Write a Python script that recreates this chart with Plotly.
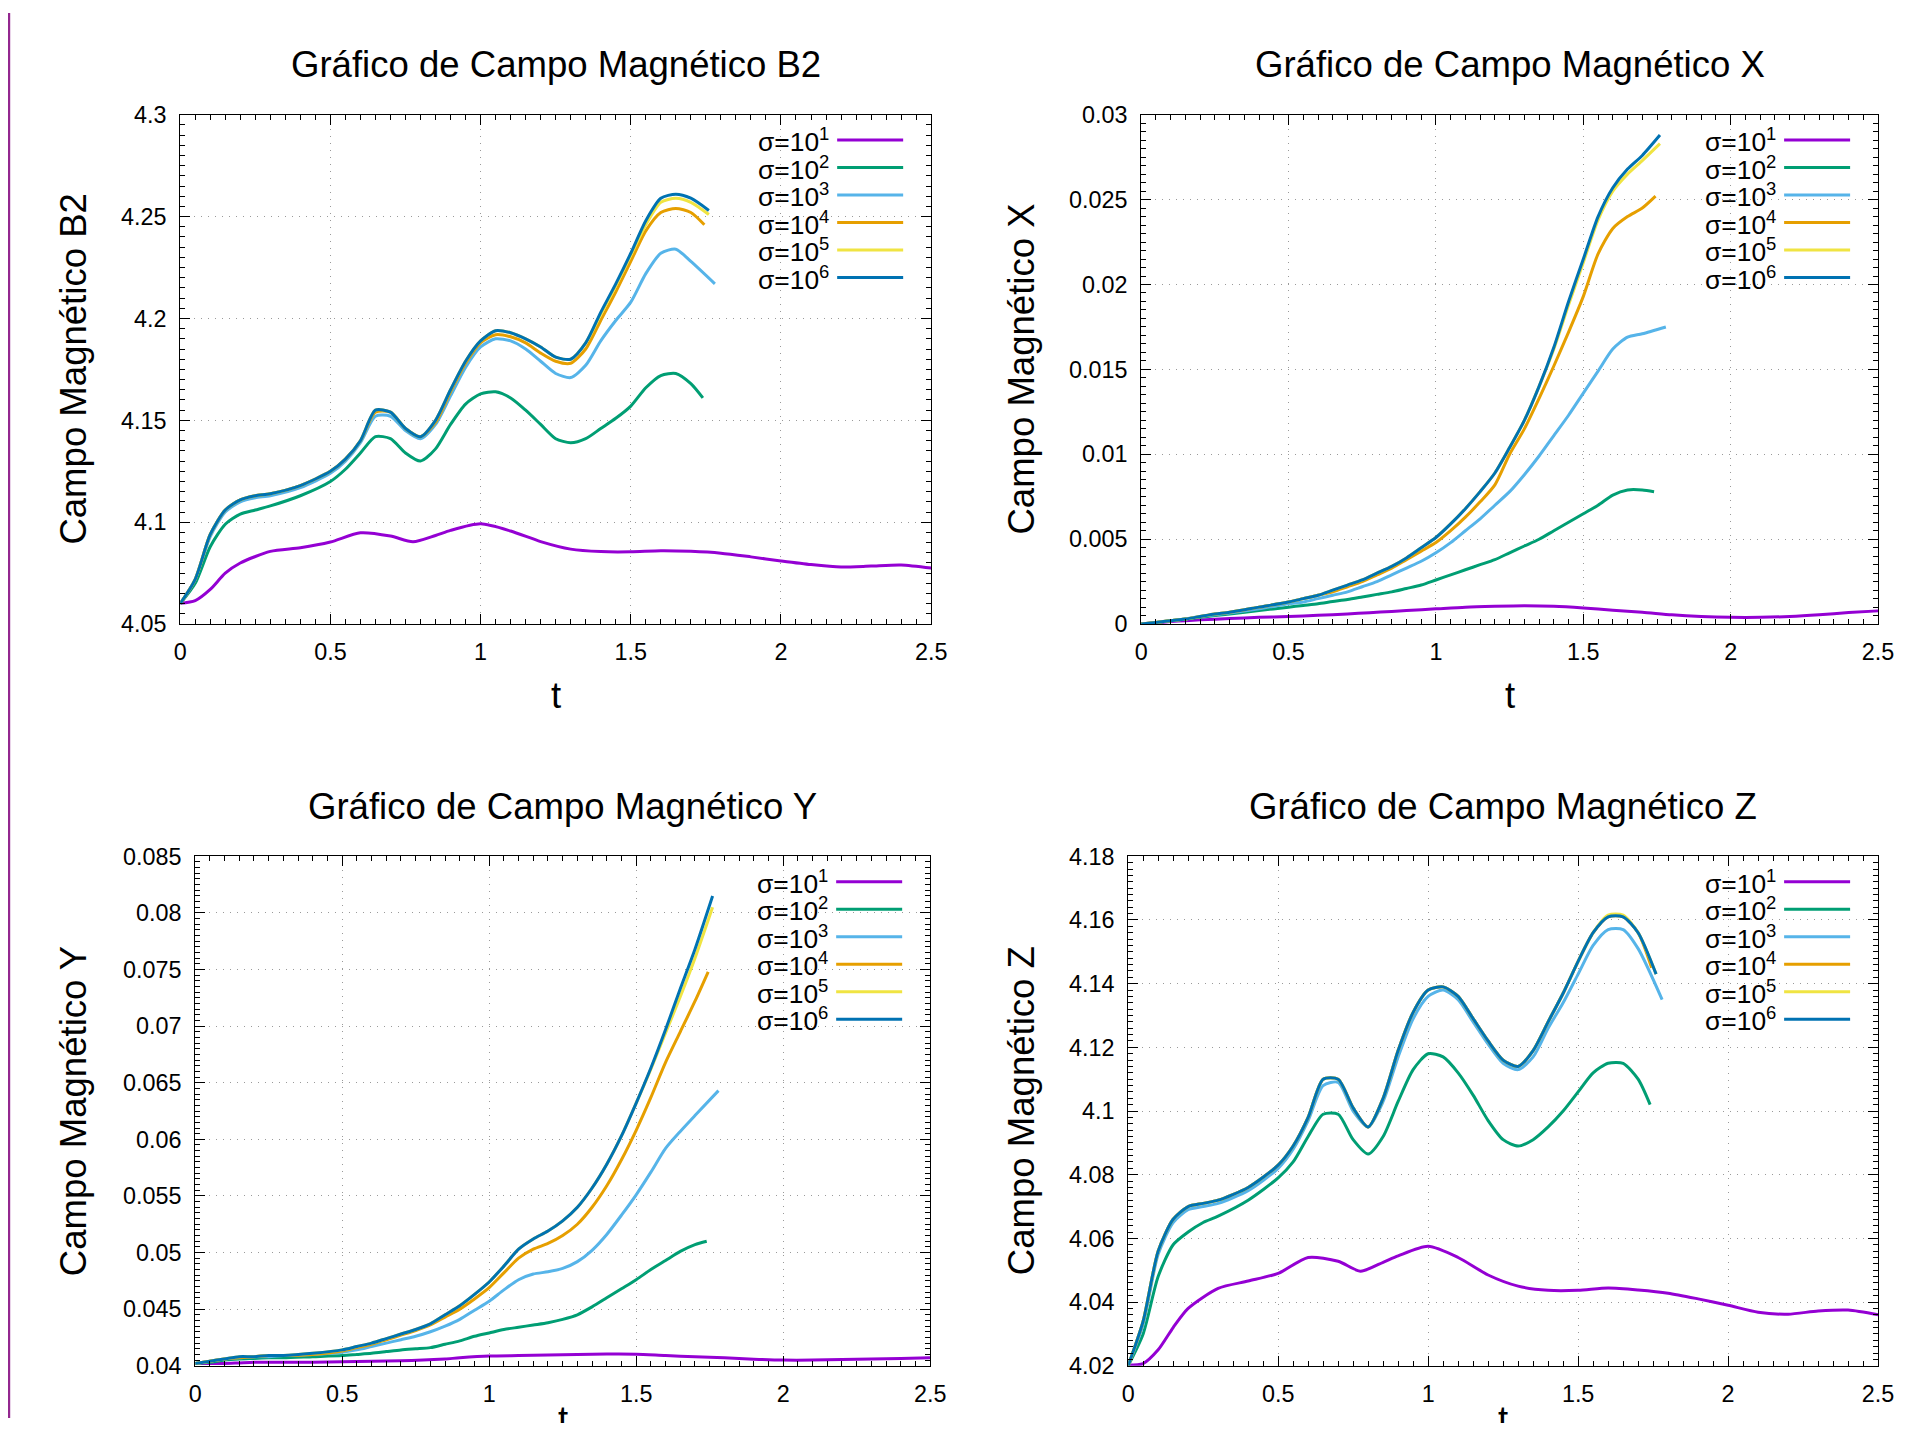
import plotly.graph_objects as go

# ---------------- data ----------------
T = [0, 0.05, 0.1, 0.15, 0.2, 0.25, 0.3, 0.4, 0.5, 0.55, 0.6, 0.65, 0.7, 0.75, 0.8, 0.85,
     0.9, 0.95, 1.0, 1.05, 1.1, 1.15, 1.2, 1.25, 1.3, 1.35, 1.4, 1.45, 1.5, 1.55, 1.6, 1.65, 1.7]
T_LONG = [0, 0.05, 0.1, 0.15, 0.2, 0.3, 0.4, 0.5, 0.6, 0.7, 0.775, 0.85, 0.9, 1.0, 1.1, 1.2,
          1.3, 1.4, 1.5, 1.6, 1.7, 1.8, 1.9, 2.0, 2.1, 2.2, 2.3, 2.4, 2.5]
T_END = [None, 1.74, 1.78, 1.745, 1.76, 1.76]   # last time of sigma=10^2..10^6

SIGMA_LABELS = ["σ=10<sup>1</sup>", "σ=10<sup>2</sup>", "σ=10<sup>3</sup>",
                "σ=10<sup>4</sup>", "σ=10<sup>5</sup>", "σ=10<sup>6</sup>"]
COLORS = ["#9400d3", "#009e73", "#56b4e9", "#e69f00", "#f0e442", "#0072b2"]

TITLES = ["Gráfico de Campo Magnético B2", "Gráfico de Campo Magnético X",
          "Gráfico de Campo Magnético Y", "Gráfico de Campo Magnético Z"]
YTITLES = ["Campo Magnético B2", "Campo Magnético X", "Campo Magnético Y", "Campo Magnético Z"]
XTITLE = "t"

X_TICKS = [0, 0.5, 1, 1.5, 2, 2.5]
X_TICKLABELS = ["0", "0.5", "1", "1.5", "2", "2.5"]
B2_TICKS = [4.05, 4.1, 4.15, 4.2, 4.25, 4.3]
B2_TICKLABELS = ["4.05", "4.1", "4.15", "4.2", "4.25", "4.3"]
BX_TICKS = [0, 0.005, 0.01, 0.015, 0.02, 0.025, 0.03]
BX_TICKLABELS = ["0", "0.005", "0.01", "0.015", "0.02", "0.025", "0.03"]
BY_TICKS = [0.04, 0.045, 0.05, 0.055, 0.06, 0.065, 0.07, 0.075, 0.08, 0.085]
BY_TICKLABELS = ["0.04", "0.045", "0.05", "0.055", "0.06", "0.065", "0.07", "0.075", "0.08", "0.085"]
BZ_TICKS = [4.02, 4.04, 4.06, 4.08, 4.1, 4.12, 4.14, 4.16, 4.18]
BZ_TICKLABELS = ["4.02", "4.04", "4.06", "4.08", "4.1", "4.12", "4.14", "4.16", "4.18"]

# --- B2 ---
B2_S1 = [4.0602, 4.0615, 4.067, 4.075, 4.080, 4.0857, 4.0875, 4.0903, 4.0948, 4.0932, 4.0904,
         4.0935, 4.096, 4.0992, 4.0957, 4.0905, 4.0868, 4.0856, 4.0855, 4.086, 4.0857, 4.0848,
         4.083, 4.081, 4.0792, 4.078, 4.0785, 4.079, 4.0775]
B2_S2 = [4.060, 4.070, 4.088, 4.099, 4.104, 4.106, 4.108, 4.113, 4.120, 4.126, 4.134, 4.142,
         4.141, 4.134, 4.130, 4.136, 4.148, 4.158, 4.163, 4.164, 4.161, 4.155, 4.148, 4.141,
         4.139, 4.141, 4.146, 4.151, 4.157, 4.166, 4.172, 4.173, 4.168, 4.161]
B2_S3 = [4.060, 4.072, 4.093, 4.105, 4.110, 4.112, 4.113, 4.117, 4.124, 4.130, 4.139, 4.152,
         4.152, 4.145, 4.141, 4.148, 4.162, 4.176, 4.186, 4.190, 4.189, 4.185, 4.179, 4.173,
         4.171, 4.177, 4.189, 4.199, 4.208, 4.222, 4.232, 4.234, 4.228, 4.217]
B2_S4 = [4.060, 4.072, 4.094, 4.106, 4.111, 4.113, 4.114, 4.118, 4.125, 4.131, 4.140, 4.154,
         4.154, 4.146, 4.142, 4.149, 4.164, 4.178, 4.188, 4.192, 4.191, 4.188, 4.183, 4.179,
         4.178, 4.185, 4.199, 4.213, 4.228, 4.243, 4.252, 4.254, 4.252, 4.246]
B2_S5 = [4.060, 4.072, 4.094, 4.106, 4.111, 4.113, 4.114, 4.118, 4.125, 4.131, 4.140, 4.155,
         4.154, 4.146, 4.142, 4.150, 4.165, 4.179, 4.189, 4.194, 4.193, 4.190, 4.186, 4.181,
         4.180, 4.188, 4.202, 4.216, 4.231, 4.246, 4.257, 4.259, 4.257, 4.251]
B2_S6 = [4.060, 4.072, 4.094, 4.106, 4.111, 4.113, 4.114, 4.118, 4.125, 4.131, 4.140, 4.155,
         4.154, 4.146, 4.142, 4.150, 4.165, 4.179, 4.189, 4.194, 4.193, 4.190, 4.186, 4.181,
         4.180, 4.188, 4.203, 4.217, 4.232, 4.248, 4.259, 4.261, 4.259, 4.253]

# --- X ---
BX_S1 = [0, 0.00008, 0.00015, 0.0002, 0.00025, 0.00033, 0.0004, 0.00045, 0.00052, 0.0006,
         0.00067, 0.00075, 0.0008, 0.0009, 0.001, 0.00105, 0.00108, 0.00105, 0.00095, 0.00082,
         0.0007, 0.00055, 0.00045, 0.0004, 0.0004, 0.00045, 0.00055, 0.00068, 0.00078]
BX_S2 = [0, 0.00008, 0.0002, 0.0003, 0.0004, 0.0005, 0.0006, 0.0008, 0.001, 0.0011, 0.0012,
         0.00133, 0.00145, 0.0016, 0.00175, 0.0019, 0.0021, 0.0023, 0.0026, 0.0029, 0.0032,
         0.0035, 0.0038, 0.0042, 0.0046, 0.005, 0.0055, 0.006, 0.0065, 0.007, 0.0076, 0.0079,
         0.0079, 0.0078]
BX_S3 = [0, 0.0001, 0.0002, 0.0003, 0.00045, 0.00055, 0.00065, 0.0009, 0.0012, 0.0013, 0.0015,
         0.0017, 0.0019, 0.0022, 0.0025, 0.0029, 0.0033, 0.0037, 0.0042, 0.0048, 0.0055, 0.0062,
         0.0070, 0.0078, 0.0088, 0.0099, 0.0111, 0.0123, 0.0136, 0.0149, 0.0162, 0.0169,
         0.0171, 0.0175]
BX_S4 = [0, 0.0001, 0.0002, 0.0003, 0.00045, 0.0006, 0.0007, 0.001, 0.0013, 0.0015, 0.0017,
         0.0019, 0.0022, 0.0025, 0.0029, 0.0033, 0.0038, 0.0043, 0.0048, 0.0055, 0.0063, 0.0072,
         0.0082, 0.0100, 0.0115, 0.0133, 0.0152, 0.0172, 0.0193, 0.0218, 0.0233, 0.0240,
         0.0245, 0.0252]
BX_S5 = [0, 0.0001, 0.0002, 0.0003, 0.00045, 0.0006, 0.0007, 0.001, 0.0013, 0.0015, 0.0017,
         0.002, 0.0023, 0.0026, 0.003, 0.0034, 0.0039, 0.0045, 0.0051, 0.0059, 0.0068, 0.0078,
         0.0089, 0.0104, 0.0120, 0.0140, 0.0162, 0.0188, 0.0213, 0.0238, 0.0255, 0.0265,
         0.0273, 0.0283]
BX_S6 = [0, 0.0001, 0.0002, 0.0003, 0.00045, 0.0006, 0.0007, 0.001, 0.0013, 0.0015, 0.0017,
         0.002, 0.0023, 0.0026, 0.003, 0.0034, 0.0039, 0.0045, 0.0051, 0.0059, 0.0068, 0.0078,
         0.0089, 0.0104, 0.0120, 0.0140, 0.0163, 0.0190, 0.0215, 0.0240, 0.0257, 0.0268,
         0.0276, 0.0288]

# --- Y ---
BY_S1 = [0.0402, 0.0402, 0.0402, 0.04025, 0.0403, 0.0403, 0.0403, 0.04035, 0.0404, 0.04045,
         0.0405, 0.0406, 0.0407, 0.04085, 0.0409, 0.04095, 0.041, 0.04103, 0.04102, 0.0409,
         0.0408, 0.0407, 0.04058, 0.0405, 0.0405, 0.04055, 0.0406, 0.04065, 0.0407]
BY_S2 = [0.0402, 0.0403, 0.0405, 0.0406, 0.04065, 0.0407, 0.0407, 0.0408, 0.0409, 0.041, 0.0411,
         0.04125, 0.0414, 0.0415, 0.0416, 0.0419, 0.0422, 0.0426, 0.0429, 0.0432, 0.0434,
         0.0436, 0.0438, 0.0441, 0.0445, 0.0452, 0.046, 0.0468, 0.0476, 0.0485, 0.0493, 0.0501,
         0.0507, 0.051]
BY_S3 = [0.0402, 0.0404, 0.0406, 0.0407, 0.0408, 0.0408, 0.0409, 0.041, 0.0412, 0.0414, 0.0417,
         0.042, 0.0423, 0.0426, 0.043, 0.0435, 0.0441, 0.0449, 0.0457, 0.0467, 0.0476, 0.0481,
         0.0483, 0.0486, 0.0492, 0.0502, 0.0516, 0.0533, 0.0551, 0.0571, 0.0592, 0.0607,
         0.0621, 0.0643]
BY_S4 = [0.0402, 0.0404, 0.0406, 0.0407, 0.0408, 0.0409, 0.0409, 0.041, 0.0413, 0.0416, 0.0419,
         0.0423, 0.0427, 0.0431, 0.0436, 0.0443, 0.045, 0.0459, 0.0469, 0.0482, 0.0495, 0.0503,
         0.0508, 0.0515, 0.0525, 0.054, 0.0559, 0.0582, 0.0608, 0.0637, 0.0668, 0.0695,
         0.0722, 0.0748]
BY_S5 = [0.0402, 0.0404, 0.0406, 0.0408, 0.0408, 0.0409, 0.0409, 0.0411, 0.0414, 0.0417, 0.042,
         0.0424, 0.0428, 0.0432, 0.0437, 0.0445, 0.0453, 0.0463, 0.0474, 0.0488, 0.0503, 0.0512,
         0.0519, 0.0528, 0.054, 0.0557, 0.0578, 0.0603, 0.0632, 0.0662, 0.0694, 0.0726,
         0.0760, 0.0805]
BY_S6 = [0.0402, 0.0404, 0.0406, 0.0408, 0.0408, 0.0409, 0.0409, 0.0411, 0.0414, 0.0417, 0.042,
         0.0424, 0.0428, 0.0432, 0.0437, 0.0445, 0.0453, 0.0463, 0.0474, 0.0488, 0.0503, 0.0512,
         0.0519, 0.0528, 0.054, 0.0557, 0.0578, 0.0603, 0.0632, 0.0663, 0.0697, 0.0733,
         0.0768, 0.0815]

# --- Z ---
BZ_S1 = [4.0202, 4.0207, 4.025, 4.032, 4.038, 4.0443, 4.0466, 4.049, 4.054, 4.0528, 4.0497,
         4.0525, 4.0545, 4.0575, 4.054, 4.0485, 4.045, 4.0437, 4.0437, 4.0444, 4.0438, 4.0428,
         4.041, 4.039, 4.0368, 4.0362, 4.0372, 4.0375, 4.036]
BZ_S2 = [4.020, 4.030, 4.048, 4.058, 4.062, 4.065, 4.067, 4.072, 4.079, 4.084, 4.092, 4.099,
         4.099, 4.091, 4.0865, 4.092, 4.103, 4.113, 4.118, 4.117, 4.112, 4.105, 4.097, 4.091,
         4.089, 4.091, 4.095, 4.100, 4.106, 4.112, 4.115, 4.115, 4.110, 4.102]
BZ_S3 = [4.020, 4.033, 4.055, 4.065, 4.069, 4.070, 4.071, 4.075, 4.082, 4.088, 4.097, 4.108,
         4.109, 4.100, 4.095, 4.103, 4.117, 4.129, 4.136, 4.138, 4.135, 4.128, 4.121, 4.115,
         4.113, 4.117, 4.126, 4.134, 4.143, 4.152, 4.157, 4.157, 4.151, 4.135]
BZ_S4 = [4.020, 4.034, 4.056, 4.066, 4.070, 4.071, 4.072, 4.076, 4.083, 4.089, 4.098, 4.110,
         4.110, 4.101, 4.095, 4.104, 4.119, 4.131, 4.138, 4.139, 4.136, 4.129, 4.122, 4.116,
         4.114, 4.119, 4.128, 4.137, 4.147, 4.156, 4.161, 4.161, 4.156, 4.145]
BZ_S5 = [4.020, 4.034, 4.056, 4.066, 4.070, 4.071, 4.072, 4.076, 4.083, 4.089, 4.098, 4.110,
         4.110, 4.101, 4.095, 4.104, 4.119, 4.131, 4.138, 4.139, 4.136, 4.129, 4.122, 4.116,
         4.114, 4.119, 4.128, 4.137, 4.147, 4.156, 4.1615, 4.1615, 4.156, 4.143]
BZ_S6 = [4.020, 4.034, 4.056, 4.066, 4.070, 4.071, 4.072, 4.076, 4.083, 4.089, 4.098, 4.110,
         4.110, 4.101, 4.095, 4.104, 4.119, 4.131, 4.138, 4.139, 4.136, 4.129, 4.122, 4.116,
         4.114, 4.119, 4.128, 4.137, 4.147, 4.156, 4.161, 4.161, 4.156, 4.143]

PANELS = [
    dict(series=[B2_S1, B2_S2, B2_S3, B2_S4, B2_S5, B2_S6], yr=[4.05, 4.3],
         yt=B2_TICKS, yl=B2_TICKLABELS, ymin=0.005),
    dict(series=[BX_S1, BX_S2, BX_S3, BX_S4, BX_S5, BX_S6], yr=[0, 0.03],
         yt=BX_TICKS, yl=BX_TICKLABELS, ymin=0.0005),
    dict(series=[BY_S1, BY_S2, BY_S3, BY_S4, BY_S5, BY_S6], yr=[0.04, 0.085],
         yt=BY_TICKS, yl=BY_TICKLABELS, ymin=0.0005),
    dict(series=[BZ_S1, BZ_S2, BZ_S3, BZ_S4, BZ_S5, BZ_S6], yr=[4.02, 4.18],
         yt=BZ_TICKS, yl=BZ_TICKLABELS, ymin=0.002),
]

# ---------------- layout geometry (target pixels in the 1909x1431 picture) ----------------
W, H = 1909, 1431
RECTS = [(179, 114, 930, 623), (1140, 114, 1877, 623),
         (194, 855, 929, 1364), (1127, 855, 1877, 1364)]
YLAB_X = [72, 1020, 72, 1020]
FONT = "Liberation Sans, Arial, sans-serif"
# measured page->picture transform of the capture (offset, scale) to compensate
OX, SX = 5.8, 0.988
OY, SY = 12.4, 0.981
FS = 1.0 / ((SX + SY) / 2)


def pxx(x):
    return ((x - OX) / SX) / W


def pyy(y):
    return 1 - ((y - OY) / SY) / H


fig = go.Figure()
layout = dict(autosize=True, margin=dict(l=0, r=0, t=0, b=0, pad=0),
              paper_bgcolor="white", plot_bgcolor="white", showlegend=False,
              font=dict(family=FONT, color="black"))
annotations = []
shapes = [dict(type="rect", xref="paper", yref="paper", x0=0, x1=pxx(9), y0=0, y1=1,
               fillcolor="#93278f", line=dict(width=0), layer="above")]

for i, (panel, rect) in enumerate(zip(PANELS, RECTS)):
    n = i + 1
    xa = "x" if n == 1 else f"x{n}"
    ya = "y" if n == 1 else f"y{n}"
    l, t, r, b = rect
    common = dict(showline=True, linecolor="black", linewidth=1, mirror="allticks",
                  ticks="inside", ticklen=10, tickcolor="black", tickwidth=1,
                  showgrid=True, gridcolor="#9a9a9a", gridwidth=1, griddash="1px,6px",
                  zeroline=False, tickfont=dict(size=23 * FS, color="black", family=FONT),
                  tickmode="array")
    layout["xaxis" if n == 1 else f"xaxis{n}"] = dict(
        common, domain=[pxx(l), pxx(r)], range=[0, 2.5], anchor=ya,
        tickvals=X_TICKS, ticktext=X_TICKLABELS, ticklabelstandoff=7,
        minor=dict(ticks="inside", ticklen=5, tickcolor="black", tickmode="linear",
                   tick0=0, dtick=0.05, showgrid=False))
    layout["yaxis" if n == 1 else f"yaxis{n}"] = dict(
        common, domain=[pyy(b), pyy(t)], range=panel["yr"], anchor=xa,
        tickvals=panel["yt"], ticktext=panel["yl"], ticklabelstandoff=8,
        minor=dict(ticks="inside", ticklen=5, tickcolor="black", tickmode="linear",
                   tick0=panel["yr"][0], dtick=panel["ymin"], showgrid=False))

    for k, (vals, col) in enumerate(zip(panel["series"], COLORS)):
        tx = T_LONG if k == 0 else T + [T_END[k]]
        fig.add_trace(go.Scatter(x=tx, y=vals, mode="lines", xaxis=xa, yaxis=ya,
                                 line=dict(color=col, width=3, shape="spline", smoothing=0.7),
                                 name=SIGMA_LABELS[k], hoverinfo="skip"))

    cx = (l + r) / 2
    annotations.append(dict(text=TITLES[i], xref="paper", yref="paper", x=pxx(cx),
                            y=pyy(t - 50), xanchor="center", yanchor="middle",
                            showarrow=False, font=dict(size=36 * FS, family=FONT)))
    annotations.append(dict(text=YTITLES[i], xref="paper", yref="paper", x=pxx(YLAB_X[i]),
                            y=pyy((t + b) / 2), xanchor="center", yanchor="middle",
                            textangle=-90, showarrow=False, font=dict(size=36 * FS, family=FONT)))
    annotations.append(dict(text=XTITLE, xref="paper", yref="paper", x=pxx(cx),
                            y=pyy(min(b + 71, 1418)), xanchor="center", yanchor="middle",
                            showarrow=False, font=dict(size=36 * FS, family=FONT)))
    # key (gnuplot style: label then line sample)
    for k, (lab, col) in enumerate(zip(SIGMA_LABELS, COLORS)):
        yy = t + 25.3 + 27.5 * k
        annotations.append(dict(text=lab, xref="paper", yref="paper", x=pxx(r - 100),
                                y=pyy(yy), xanchor="right", yanchor="middle",
                                showarrow=False, font=dict(size=26 * FS, family=FONT)))
        shapes.append(dict(type="line", xref="paper", yref="paper",
                           x0=pxx(r - 94), x1=pxx(r - 28), y0=pyy(yy), y1=pyy(yy),
                           line=dict(color=col, width=3)))

layout["annotations"] = annotations
layout["shapes"] = shapes
fig.update_layout(**layout)

# the figure fills the browser viewport exactly (negative margin cancels the body margin)
fig.write_html("out.html", config={"displayModeBar": False, "responsive": True},
               default_width="100vw", default_height="100vh; margin:-8px; display:block")
